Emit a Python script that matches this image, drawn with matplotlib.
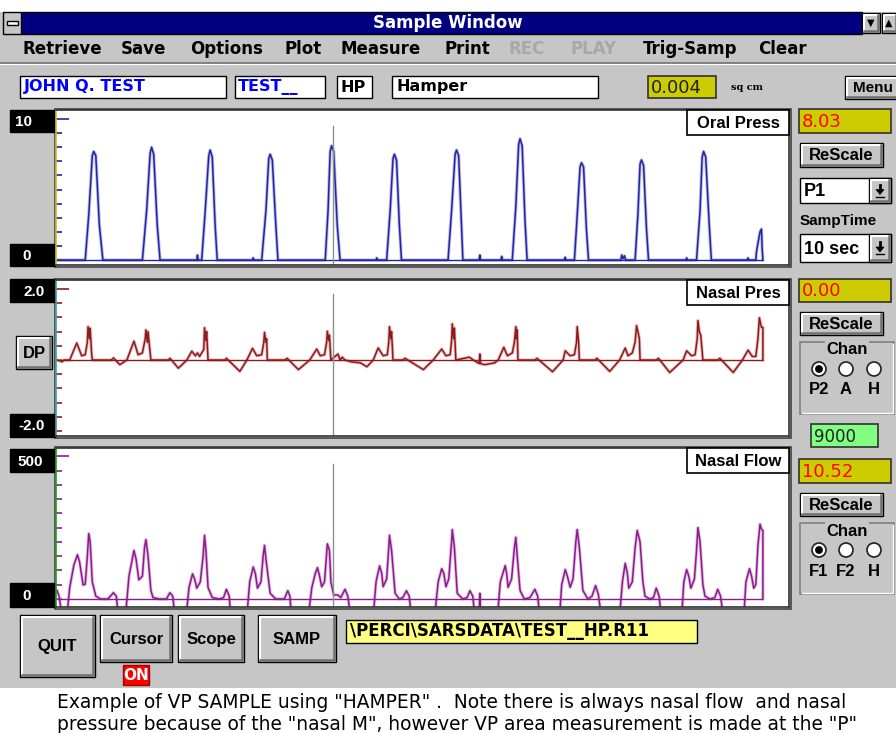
import matplotlib
matplotlib.use('Agg')
import matplotlib.pyplot as plt
import matplotlib.patches as mpatches

W, H = 896, 733

# ---- values (time in s over the 10 s sample) ----
oral_t = [0.00,
          0.40, 0.45, 0.50, 0.52, 0.55, 0.60, 0.65,
          1.21, 1.27, 1.32, 1.34, 1.37, 1.42, 1.46,
          1.98, 1.99, 2.00,
          2.05, 2.10, 2.15, 2.17, 2.20, 2.24, 2.27,
          2.77, 2.78, 2.79,
          2.90, 2.96, 3.00, 3.02, 3.05, 3.10, 3.13,
          3.80, 3.84, 3.87, 3.89, 3.92, 3.97, 4.01,
          4.52, 4.53, 4.54,
          4.67, 4.72, 4.76, 4.78, 4.81, 4.85, 4.88,
          5.54, 5.59, 5.64, 5.66, 5.69, 5.73, 5.75,
          5.98, 5.99, 6.00,
          6.29, 6.30, 6.31,
          6.45, 6.50, 6.54, 6.56, 6.59, 6.63, 6.66,
          7.19, 7.20, 7.21,
          7.33, 7.37, 7.41, 7.43, 7.46, 7.50, 7.53,
          7.99, 8.00, 8.02, 8.04, 8.05, 8.06,
          8.19, 8.23, 8.26, 8.28, 8.31, 8.35, 8.38,
          8.91, 8.92, 8.93,
          9.06, 9.11, 9.14, 9.16, 9.19, 9.24, 9.27,
          9.78, 9.79, 9.80,
          9.90, 9.91, 9.93, 9.96, 9.98, 9.99, 10.00]
oral_p = [0,
          0, 3.2, 7.4, 7.7, 7.4, 2.5, 0,
          0, 3.5, 7.6, 8.0, 7.5, 2.5, 0,
          0, 0.35, 0,
          0, 3.5, 7.4, 7.8, 7.3, 2.5, 0,
          0, 0.15, 0,
          0, 3.5, 7.2, 7.5, 7.1, 2.5, 0,
          0, 3.5, 7.7, 8.1, 7.7, 2.5, 0,
          0, 0.15, 0,
          0, 3.5, 7.2, 7.5, 7.1, 2.5, 0,
          0, 3.5, 7.5, 7.8, 7.4, 2.5, 0,
          0, 0.35, 0,
          0, 0.25, 0,
          0, 3.8, 8.2, 8.6, 8.1, 2.8, 0,
          0, 0.2, 0,
          0, 3.2, 6.6, 6.9, 6.6, 2.2, 0,
          0, 0.35, 0.1, 0.3, 0.1, 0,
          0, 3.3, 6.8, 7.1, 6.7, 2.3, 0,
          0, 0.15, 0,
          0, 3.5, 7.3, 7.7, 7.3, 2.5, 0,
          0, 0.15, 0,
          0, 0.6, 1.2, 2.0, 2.2, 0.8, 0]

nasal_t = [0.00, 0.05, 0.07, 0.10,
           0.18, 0.28, 0.35, 0.40, 0.43, 0.44, 0.46, 0.47, 0.49, 0.50,
           0.77, 0.80, 0.89, 0.99,
           1.09, 1.15, 1.21, 1.25, 1.26, 1.28, 1.29, 1.32, 1.33,
           1.58, 1.60, 1.72, 1.84,
           1.91, 1.96, 1.99, 2.02, 2.08, 2.09, 2.11, 2.12, 2.14,
           2.38, 2.40, 2.59, 2.69,
           2.77, 2.83, 2.90, 2.93, 2.94, 2.96, 2.97, 2.98,
           3.23, 3.26, 3.42, 3.58,
           3.68, 3.73, 3.79, 3.82, 3.83, 3.85, 3.86, 3.88,
           3.98, 4.01, 4.04, 4.08, 4.17, 4.30, 4.39, 4.48,
           4.55, 4.62, 4.68, 4.70, 4.71, 4.73, 4.74, 4.76,
           4.90, 4.93, 5.19, 5.33,
           5.45, 5.51, 5.57, 5.59, 5.60, 5.62, 5.63, 5.65,
           5.84, 5.90, 5.98, 5.99, 6.00, 6.06, 6.20, 6.25,
           6.33, 6.38, 6.45, 6.48, 6.50, 6.51, 6.52, 6.53,
           6.77, 6.80, 7.02, 7.17,
           7.20, 7.27, 7.33, 7.36, 7.37, 7.39, 7.40,
           7.62, 7.65, 7.83, 7.97,
           8.05, 8.09, 8.15, 8.19, 8.21, 8.23, 8.25, 8.26,
           8.49, 8.52, 8.68, 8.87,
           8.92, 8.99, 9.04, 9.07, 9.08, 9.10, 9.12, 9.15,
           9.36, 9.39, 9.58, 9.71,
           9.79, 9.85, 9.90, 9.93, 9.95, 9.98, 10.00, 10.00]
nasal_p = [0, -0.03, -0.05, 0,
           0, 0.48, 0.12, 0.15, 0.5, 0.94, 0.6, 0.9, 0.2, 0,
           0, 0.06, -0.13, 0,
           0.53, 0.15, 0.2, 0.6, 0.85, 0.5, 0.8, 0.2, 0,
           0, 0.05, -0.23, 0,
           0.25, 0.12, 0.2, 0.1, 0.3, 0.91, 0.55, 0.8, 0,
           0, 0.05, -0.32, 0,
           0.33, 0.12, 0.15, 0.5, 0.78, 0.5, 0.6, 0,
           0, 0.05, -0.27, 0,
           0.31, 0.12, 0.15, 0.5, 0.81, 0.55, 0.7, 0,
           0.17, 0.0, 0.08, 0, -0.05, -0.08, -0.19, 0,
           0.34, 0.12, 0.15, 0.5, 0.94, 0.6, 0.8, 0,
           0, 0.05, -0.27, 0,
           0.31, 0.12, 0.15, 0.55, 1.02, 0.6, 0.9, 0,
           0.08, 0, -0.1, 0.17, -0.1, -0.13, -0.08, 0,
           0.36, 0.12, 0.2, 0.5, 0.94, 0.6, 0.85, 0,
           0, 0.05, -0.33, 0,
           0.26, 0.12, 0.15, 0.5, 0.94, 0.5, 0,
           0, 0.05, -0.32, 0,
           0.34, 0.12, 0.2, 0.5, 0.97, 0.8, 0.6, 0,
           0, 0.05, -0.35, 0,
           0.26, 0.12, 0.15, 0.6, 1.11, 0.8, 0.7, 0,
           0, 0.05, -0.35, 0,
           0.28, 0.1, 0.1, 0.6, 1.19, 0.92, 0.92, 0]

# flow goes off the bottom of the scale between breaths (-60 = clipped)
flow_t = [0.00, 0.03, 0.07, 0.14,
          0.18, 0.24, 0.29, 0.32, 0.37, 0.40, 0.43, 0.45, 0.47, 0.50, 0.55, 0.62, 0.72, 0.80, 0.84, 0.87, 0.97,
          1.02, 1.09, 1.12, 1.16, 1.21, 1.24, 1.26, 1.29, 1.33, 1.36, 1.45, 1.55, 1.60, 1.64, 1.67, 1.83,
          1.87, 1.92, 1.95, 1.98, 2.03, 2.07, 2.09, 2.11, 2.14, 2.20, 2.30, 2.36, 2.40, 2.44, 2.46, 2.69,
          2.73, 2.78, 2.81, 2.84, 2.89, 2.92, 2.94, 2.96, 3.02, 3.10, 3.22, 3.27, 3.30, 3.32, 3.56,
          3.61, 3.66, 3.69, 3.72, 3.75, 3.79, 3.82, 3.83, 3.86, 3.88, 3.92, 3.98, 4.02, 4.08, 4.12, 4.16, 4.48,
          4.52, 4.57, 4.60, 4.62, 4.67, 4.70, 4.71, 4.74, 4.79, 4.85, 4.90, 4.95, 4.99, 5.02, 5.35,
          5.40, 5.45, 5.48, 5.51, 5.55, 5.59, 5.60, 5.63, 5.67, 5.75, 5.81, 5.85, 5.89, 5.92, 5.98, 5.99, 6.00, 6.24,
          6.28, 6.35, 6.37, 6.39, 6.44, 6.48, 6.50, 6.52, 6.56, 6.62, 6.70, 6.77, 6.81, 6.84, 7.12,
          7.15, 7.20, 7.23, 7.27, 7.31, 7.35, 7.37, 7.40, 7.45, 7.52, 7.58, 7.63, 7.67, 7.71, 7.97,
          8.01, 8.05, 8.08, 8.10, 8.15, 8.19, 8.22, 8.26, 8.30, 8.33, 8.40, 8.45, 8.49, 8.53, 8.56, 8.85,
          8.88, 8.92, 8.95, 8.98, 9.03, 9.06, 9.08, 9.11, 9.15, 9.18, 9.25, 9.32, 9.36, 9.40, 9.44, 9.73,
          9.76, 9.81, 9.84, 9.87, 9.90, 9.93, 9.96, 9.98, 10.00, 10.00]
flow_v = [30, 10, -60, -60,
          40, 120, 155, 130, 49, 52, 150, 229, 200, 60, 10, 0, 0, 22, 10, -60, -60,
          80, 170, 140, 67, 80, 180, 208, 150, 30, 5, 0, 0, 22, 10, -60, -60,
          40, 88, 70, 38, 60, 150, 223, 170, 40, 5, 0, 5, 34, 10, -60, -60,
          60, 112, 90, 38, 60, 150, 188, 140, 20, 0, 0, 29, 10, -60, -60,
          40, 90, 110, 80, 43, 60, 160, 193, 170, 60, 14, 14, 5, 34, 10, -60, -60,
          60, 116, 90, 43, 70, 180, 223, 170, 20, 0, 5, 29, 10, -60, -60,
          60, 106, 90, 43, 70, 200, 243, 180, 20, 0, 5, 29, 10, -60, -60, 20, -60, -60,
          60, 117, 90, 41, 70, 180, 216, 150, 30, 0, 5, 34, 10, -60, -60,
          50, 103, 80, 41, 70, 200, 243, 180, 30, 0, 10, 47, 15, -60, -60,
          60, 125, 90, 38, 60, 180, 240, 200, 60, 10, 0, 5, 38, 10, -60, -60,
          60, 103, 80, 38, 70, 170, 250, 200, 50, 10, 0, 5, 34, 10, -60, -60,
          60, 106, 80, 38, 50, 188, 262, 245, 240, 0]

cursor_t = 3.905

channel_names = ['Oral Press', 'Nasal Pres', 'Nasal Flow']
scale_top = ['10', '2.0', '500']
scale_bottom = ['0', '-2.0', '0']
readouts = ['8.03', '0.00', '10.52']

menu_items = ['Retrieve', 'Save', 'Options', 'Plot', 'Measure', 'Print',
              'REC', 'PLAY', 'Trig-Samp', 'Clear']
menu_disabled = ['REC', 'PLAY']

caption = ['Example of VP SAMPLE using "HAMPER" .  Note there is always nasal flow  and nasal',
           'pressure because of the "nasal M", however VP area measurement is made at the "P"']

# ---- look ----
GRAY = '#c6c6c6'
NAVY = '#000080'
OLIVE = '#cccc00'
UI = 'Liberation Sans'
NARROW = 'Liberation Sans Narrow'


def px_rect(x0, y0, x1, y1):
    return [x0 / W, 1 - y1 / H, (x1 - x0) / W, (y1 - y0) / H]


def box(ax, x0, y0, x1, y1, fc='white', ec='black', lw=1.0, z=1):
    ax.add_patch(mpatches.Rectangle((x0, y0), x1 - x0, y1 - y0, fc=fc, ec=ec, lw=lw, zorder=z))


def button(ax, x0, y0, x1, y1, label, fs=11):
    box(ax, x0, y0, x1, y1, fc=GRAY, ec='black', lw=1.0)
    ax.plot([x0 + 1.5, x0 + 1.5, x1 - 2], [y1 - 2, y0 + 1.5, y0 + 1.5], color='white', lw=1.5, zorder=2)
    ax.plot([x0 + 2, x1 - 1.8, x1 - 1.8], [y1 - 1.8, y1 - 1.8, y0 + 2], color='#707070', lw=1.8, zorder=2)
    ax.text((x0 + x1) / 2, (y0 + y1) / 2 + 1, label, ha='center', va='center',
            fontsize=fs, fontweight='bold', family=UI, zorder=3)


def dropdown(ax, x0, y0, x1, y1, label):
    box(ax, x0, y0, x1, y1, fc='white', ec='black')
    button(ax, x1 - 22, y0, x1, y1, '')
    cx, cy = x1 - 11, (y0 + y1) / 2
    ax.add_patch(mpatches.Polygon([[cx - 4, cy - 1], [cx + 4, cy - 1], [cx, cy + 4]], closed=True,
                                  fc='black', ec='black', lw=0.5, zorder=4))
    ax.plot([cx, cx], [cy - 6, cy], color='black', lw=2, zorder=4)
    ax.plot([cx - 4, cx + 4], [cy + 6, cy + 6], color='black', lw=1, zorder=4)
    ax.text(x0 + 4, (y0 + y1) / 2 + 1, label, ha='left', va='center', fontsize=13,
            fontweight='bold', family=UI, zorder=3)


def readout(ax, x0, y0, x1, y1, value, fc=OLIVE, color='red', fs=13):
    box(ax, x0, y0, x1, y1, fc=fc, ec='#303030', lw=1.2)
    ax.text(x0 + 3, (y0 + y1) / 2 + 1, value, ha='left', va='center', fontsize=fs,
            color=color, family=NARROW, zorder=3)


def radio_group(ax, y0, y1, labels, selected=0):
    box(ax, 800, y0, 894, y1, fc=GRAY, ec='#808080', lw=1.2)
    ax.plot([801.5, 892.5, 892.5], [y1 - 1.5, y1 - 1.5, y0 + 1.5], color='white', lw=1)
    ax.text(847, y0 + 8, 'Chan', ha='center', va='center', fontsize=12, fontweight='bold',
            family=UI, zorder=3, bbox=dict(fc=GRAY, ec='none', pad=1))
    for i, (x, lab) in enumerate(zip([819, 846, 874], labels)):
        ax.add_patch(mpatches.Circle((x, y0 + 27), 7, fc='white', ec='#202020', lw=1.2, zorder=3))
        if i == selected:
            ax.add_patch(mpatches.Circle((x, y0 + 27), 3.2, fc='black', ec='black', zorder=4))
        ax.text(x, y0 + 48, lab, ha='center', va='center', fontsize=12, fontweight='bold',
                family=UI, zorder=3)


fig = plt.figure(figsize=(W / 100, H / 100), dpi=100, facecolor='white')
ui = fig.add_axes([0, 0, 1, 1])
ui.set_xlim(0, W)
ui.set_ylim(H, 0)
ui.axis('off')

# window body + title bar
box(ui, 0, 12, W, 688, fc=GRAY, ec='none', z=0)
box(ui, 21, 12, 862, 34, fc=NAVY, ec='black', lw=1)
ui.text(448, 23, 'Sample Window', ha='center', va='center', color='white', fontsize=12,
        fontweight='bold', family=NARROW)
box(ui, 3, 12, 21, 34, fc=GRAY, ec='black')
box(ui, 7, 21, 18, 25, fc='white', ec='black', lw=1)
button(ui, 862, 13, 880, 33, '')
ui.text(871, 23, '\u25bc', ha='center', va='center', fontsize=7, family='DejaVu Sans')
button(ui, 882, 13, 898, 33, '')
ui.text(889, 23, '\u25b2', ha='center', va='center', fontsize=7, family='DejaVu Sans')

# menu bar
menu_x = [22, 121, 190, 284, 341, 444, 509, 571, 643, 758]
for name, x in zip(menu_items, menu_x):
    ui.text(x, 49, name, ha='left', va='center', fontsize=12, fontweight='bold', family=NARROW,
            color='#a8a8a8' if name in menu_disabled else 'black')
ui.plot([0, W], [62.5, 62.5], color='#707070', lw=1.2)
ui.plot([0, W], [64, 64], color='white', lw=0.8)

# header fields
box(ui, 20, 76, 226, 98)
ui.text(24, 87, 'JOHN Q. TEST', ha='left', va='center', fontsize=11.5, fontweight='bold',
        color='#0000ff', family=NARROW)
box(ui, 235, 76, 325, 98)
ui.text(238, 87, 'TEST__', ha='left', va='center', fontsize=11.5, fontweight='bold',
        color='#0000ff', family=NARROW)
box(ui, 337, 76, 372, 98)
ui.text(340, 87, 'HP', ha='left', va='center', fontsize=11.5, fontweight='bold', family=NARROW)
box(ui, 392, 76, 598, 98)
ui.text(396, 87, 'Hamper', ha='left', va='center', fontsize=11.5, fontweight='bold', family=NARROW)
readout(ui, 648, 76, 716, 98, '0.004', color='#202020')
ui.text(731, 87, 'sq cm', ha='left', va='center', fontsize=7, fontweight='bold', family='DejaVu Serif')
button(ui, 845, 76, 900, 99, 'Menu', fs=11)

# channel strips
strips = [
    dict(rect=(56, 110, 789, 265), ylim=(-0.35, 10.64), t=oral_t, v=oral_p, lo=0, top=10, step=1,
         main='#24249c', halo='#a0a0e8', spine='#c8c020', cur=0.9,
         lab_top=(110, 132, 24), lab_bot=(244, 266, 27)),
    dict(rect=(56, 280, 789, 436), ylim=(-2.14, 2.255), t=nasal_t, v=nasal_p, lo=-2.0, top=2.0, step=0.4,
         main='#8c1c1c', halo='#e0a0a0', spine='#40a0a0', cur=0.91,
         lab_top=(279, 302, 34), lab_bot=(414, 437, 32)),
    dict(rect=(56, 448, 789, 607), ylim=(-28, 529), t=flow_t, v=flow_v, lo=0, top=500, step=50,
         main='#8c1c8c', halo='#d8a0d8', spine='#20a020', cur=0.9,
         lab_top=(449, 472, 30), lab_bot=(583, 607, 27)),
]

for i, s in enumerate(strips):
    x0, y0, x1, y1 = s['rect']
    box(ui, x0 - 1.5, y0 - 1.5, x1 + 1.5, y1 + 1.5, fc='white', ec='#404040', lw=1.2)
    ax = fig.add_axes(px_rect(x0, y0, x1, y1), zorder=2)
    ax.set_facecolor('white')
    ax.plot(s['t'], s['v'], color=s['halo'], lw=2.4, alpha=0.7)
    ax.plot(s['t'], s['v'], color=s['main'], lw=1.1)
    ax.hlines(0, s['t'][0], s['t'][-1], color=s['main'], lw=1.0)
    ax.axvline(cursor_t, ymax=s['cur'], color='#8a948a', lw=1.0)
    ax.set_xticks([])
    n = int(round((s['top'] - s['lo']) / s['step']))
    ax.set_yticks([s['top']])
    ax.set_yticks([s['lo'] + k * s['step'] for k in range(n)], minor=True)
    ax.set_xlim(-0.014, 10.37)
    ax.set_ylim(*s['ylim'])
    ax.tick_params(axis='y', which='major', direction='in', length=9.5, width=1.2,
                   color=s['main'], labelleft=False)
    ax.tick_params(axis='y', which='minor', direction='in', length=4.5, width=1.2,
                   color=s['main'], labelleft=False)
    for sp in ax.spines.values():
        sp.set_color('#303030')
        sp.set_linewidth(1.2)
    ax.spines['left'].set_color(s['spine'])

    # black scale labels at the left
    ty0, ty1, tx = s['lab_top']
    box(ui, 10, ty0, 55, ty1, fc='black', ec='black')
    ui.text(tx, (ty0 + ty1) / 2 + 1, scale_top[i], ha='center', va='center', color='white',
            fontsize=11, fontweight='bold', family=UI)
    by0, by1, bx = s['lab_bot']
    box(ui, 10, by0, 55, by1, fc='black', ec='black')
    ui.text(bx, (by0 + by1) / 2 + 1, scale_bottom[i], ha='center', va='center', color='white',
            fontsize=11, fontweight='bold', family=UI)

# overlay for things drawn over the traces
top = fig.add_axes([0, 0, 1, 1], zorder=5)
top.set_xlim(0, W)
top.set_ylim(H, 0)
top.axis('off')
top.patch.set_visible(False)
for s, name in zip(strips, channel_names):
    x0, y0, x1, y1 = s['rect']
    box(top, 687, y0, x1, y0 + 25, fc='white', ec='black', lw=1.2)
    top.text(738, y0 + 13, name, ha='center', va='center', fontsize=12, fontweight='bold', family=UI)

button(ui, 16, 336, 52, 369, 'DP', fs=12)

# right-hand controls
readout(ui, 799, 109, 891, 133, readouts[0])
button(ui, 800, 143, 883, 167, 'ReScale', fs=12)
dropdown(ui, 800, 178, 891, 203, 'P1')
ui.text(800, 221, 'SampTime', ha='left', va='center', fontsize=11, fontweight='bold', family=UI)
dropdown(ui, 800, 234, 891, 262, '10 sec')

readout(ui, 799, 279, 891, 302, readouts[1])
button(ui, 800, 312, 883, 335, 'ReScale', fs=12)
radio_group(ui, 342, 414, ['P2', 'A', 'H'])
readout(ui, 811, 424, 878, 447, '9000', fc='#80ff80', color='#202020', fs=12)

readout(ui, 799, 459, 891, 483, readouts[2])
button(ui, 800, 493, 883, 516, 'ReScale', fs=12)
radio_group(ui, 523, 594, ['F1', 'F2', 'H'])

# bottom buttons
button(ui, 20, 615, 95, 677, 'QUIT', fs=12)
button(ui, 100, 615, 172, 662, 'Cursor', fs=12)
box(ui, 123, 665, 149, 685, fc='#ff0000', ec='#a00000')
ui.text(136, 675.5, 'ON', ha='center', va='center', color='white', fontsize=11,
        fontweight='bold', family=NARROW)
button(ui, 178, 615, 244, 662, 'Scope', fs=12)
button(ui, 258, 615, 336, 662, 'SAMP', fs=12)
box(ui, 346, 620, 697, 643, fc='#ffff80', ec='black')
ui.text(350, 631.5, '\\PERCI\\SARSDATA\\TEST__HP.R11', ha='left', va='center', fontsize=12,
        fontweight='bold', family=NARROW)

# caption under the window
ui.text(57, 703, caption[0], ha='left', va='center', fontsize=13.4, family=NARROW)
ui.text(57, 724, caption[1], ha='left', va='center', fontsize=13.4, family=NARROW)

fig.savefig('out.png', dpi=100, facecolor='white')
